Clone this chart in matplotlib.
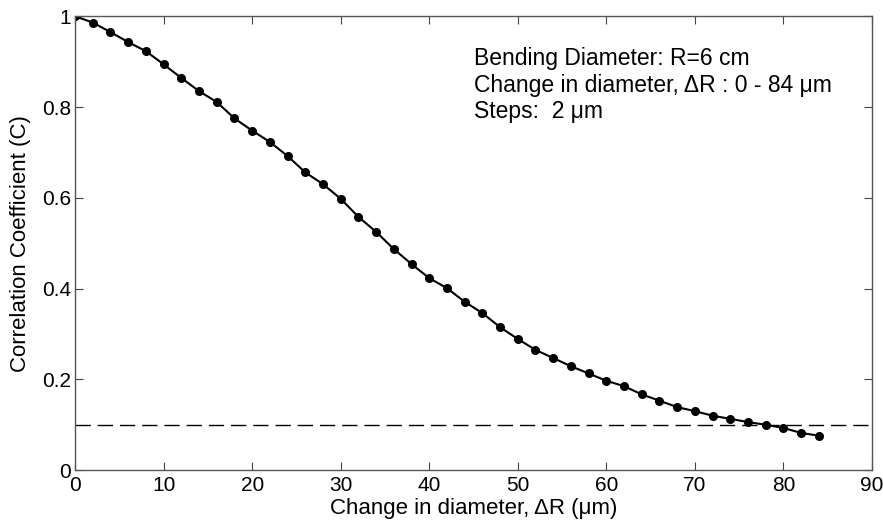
import numpy as np
import matplotlib.pyplot as plt

plt.rcParams['font.family'] = ['Liberation Sans', 'DejaVu Sans']

# change in diameter (um) and correlation coefficient
dR = np.arange(0, 86, 2)
C = [1.000, 0.986, 0.965, 0.943, 0.923, 0.894, 0.864, 0.835, 0.811, 0.775,
     0.748, 0.723, 0.692, 0.656, 0.630, 0.598, 0.558, 0.525, 0.487, 0.454,
     0.423, 0.401, 0.371, 0.346, 0.315, 0.289, 0.265, 0.247, 0.229, 0.213,
     0.197, 0.185, 0.167, 0.153, 0.139, 0.130, 0.120, 0.113, 0.106, 0.100,
     0.093, 0.082, 0.076]
threshold = 0.1

fig = plt.figure(figsize=(8.83, 5.23), dpi=100)
ax = fig.add_axes([0.085, 0.101, 0.9025, 0.868])

ax.plot(dR, C, '-o', color='black', lw=1.5, ms=5.5)
ax.axhline(threshold, color='black', lw=1.0, ls=(0, (11, 5)))

ax.set_xlim(0, 90)
ax.set_ylim(0, 1)
ax.set_xticks(np.arange(0, 91, 10))
ax.set_yticks([0, 0.2, 0.4, 0.6, 0.8, 1])
ax.set_yticklabels(['0', '0.2', '0.4', '0.6', '0.8', '1'])
ax.tick_params(direction='in', top=True, right=True, labelsize=15, length=6,
               width=0.8, color='#444444')
ax.tick_params(axis='x', pad=4)
ax.tick_params(axis='y', pad=3)
for s in ax.spines.values():
    s.set_color('#555555')
    s.set_linewidth(1.0)

ax.set_xlabel('Change in diameter, ΔR (μm)', fontsize=16, labelpad=2)
ax.set_ylabel('Correlation Coefficient (C)', fontsize=16, labelpad=8)

ax.text(0.5, 0.932, 'Bending Diameter: R=6 cm\nChange in diameter, ΔR : 0 - 84 μm\nSteps:  2 μm',
        transform=ax.transAxes, fontsize=16.5, va='top', ha='left', linespacing=1.2)

fig.savefig('out.png', dpi=100)
